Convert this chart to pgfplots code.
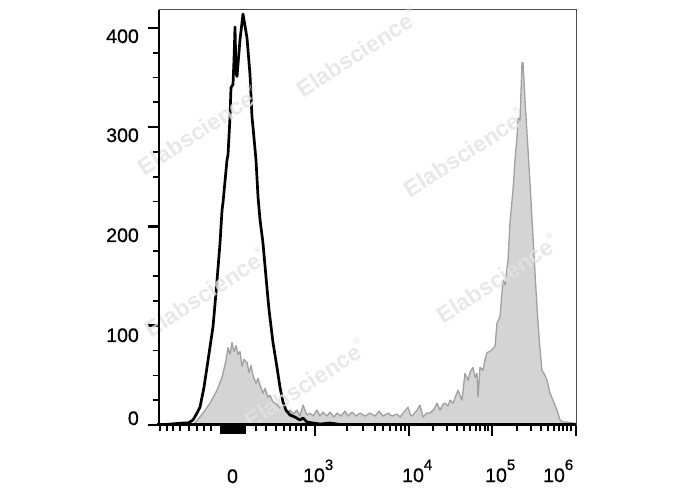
\documentclass[border=0pt]{standalone}
\usepackage{pgfplots}
\pgfplotsset{compat=1.18}
\usepackage{fontspec}
\setmainfont{Liberation Sans}
\newfontfamily\labfont[FakeBold=0.8]{Liberation Sans}
\definecolor{fillgray}{HTML}{D4D4D4}
\definecolor{edgegray}{HTML}{A0A0A0}
\definecolor{wm}{HTML}{E2E2E2}
\newcommand{\lab}{\labfont\fontsize{19.5bp}{22bp}\selectfont}
\newcommand{\wmfont}{\fontsize{23bp}{26bp}\selectfont\bfseries}
\begin{document}
\begin{tikzpicture}
\useasboundingbox (0,0) rectangle (688bp,490bp);
\begin{axis}[
  at={(159bp,65bp)}, anchor=south west,
  scale only axis, width=417bp, height=415bp,
  xmin=159, xmax=576, ymin=0, ymax=418,
  xtick={315,409,492,576}, xticklabels={},
  minor xtick={160,167,173,180,189,197,204,211,256,266,276,284,290,296,301,306,347,363,375,383,390,396,401,405,433,447,457,464,470,476,480,485,488,517,531,541,548,554,559,563,567,571},
  extra x ticks={221,223,225,227,229,231,233,235,237,239,241,243,245},
  extra x tick labels={},
  extra x tick style={major tick length=9bp},
  ytick={0,100,200,300,400}, yticklabels={},
  minor ytick={25,50,75,125,150,175,225,250,275,325,350,375},
  tick align=outside, xtick pos=left, ytick pos=left,
  major tick length=11bp, minor tick length=6.5bp,
  every major tick/.append style={line width=2.6bp, black},
  every minor tick/.append style={line width=1.7bp, black},
  axis line style={line width=1bp, black!70},
]
\addplot[fill=fillgray, draw=edgegray, line width=1.3bp, line join=round] coordinates {
(159,0) (190,0) (195,2) (203,12) (210,22) (217,35) (222,48) (226,65) (228,78) (230,71) (232,83) (234,74) (236,80) (238,71) (240,74) (242,59) (244,66) (247,63) (249,53) (251,60) (253,50) (256,42) (258,47) (260,40) (263,32) (265,37) (268,28) (270,30) (273,23) (277,21) (280,17) (283,19) (287,12) (290,15) (293,11) (297,15) (300,9) (303,20) (307,10) (310,12) (313,9) (317,15) (320,9) (323,13) (327,9) (330,13) (334,8) (337,12) (341,9) (345,14) (348,9) (352,13) (356,9) (360,12) (365,9) (370,12) (375,9) (379,14) (383,9) (388,12) (392,9) (397,11) (400,8) (404,13) (408,18) (411,9) (413,10) (417,15) (420,20) (423,8) (427,12) (430,12) (434,16) (437,22) (440,15) (443,21) (445,22) (448,19) (450,25) (453,22) (456,30) (458,35) (462,25) (465,52) (468,45) (470,53) (473,58) (475,48) (477,52) (478,28) (480,58) (483,55) (485,66) (487,73) (490,74) (492,76) (495,79) (497,103) (500,109) (503,146) (505,141) (508,166) (510,204) (513,237) (515,267) (517,290) (518,309) (520,307) (522,365) (523,365) (525,327) (527,294) (530,244) (533,189) (536,136) (538,103) (540,76) (542,55) (545,50) (547,45) (550,32) (553,25) (557,15) (560,5) (563,3) (567,3) (573,2) (576,0)
} \closedcycle;
\addplot[black, line width=2.7bp, line join=round] coordinates {
(159,0) (183,2) (188,2) (193,5) (197,12) (200,18) (204,38) (208,65) (213,99) (216,133) (220,183) (222,216) (223,224) (227,267) (228,272) (230,310) (231,340) (233,343) (234,368) (235,401) (236,355) (237,351) (240,388) (243,414) (247,390) (250,353) (252,310) (253,300) (256,267) (258,230) (260,207) (263,183) (266,149) (269,116) (273,83) (277,58) (280,38) (283,23) (286,15) (290,10) (295,8) (300,5) (303,7) (307,3) (313,2) (320,1) (330,2) (337,1) (345,0) (576,0)
};
\end{axis}
% watermarks
\begin{scope}[opacity=0.8]
\foreach \x/\y in {357/52, 198/130, 464/152, 205/292, 497/278, 305/383}{
  \node[text=wm, rotate=33, inner sep=0] at (\x bp, 490bp-\y bp) {\wmfont Elabscience\raisebox{1.1ex}{\fontsize{9bp}{9bp}\selectfont\textregistered}};
}
\end{scope}
% axis lines
\draw[line width=1.8bp, black] (159bp,480bp) -- (159bp,65bp);
\draw[line width=3bp, black] (157bp,65bp) -- (576bp,65bp);
% y tick labels
\foreach \v/\b in {400/447, 300/348, 200/248, 100/148, 0/65}{
  \node[anchor=base east, inner sep=0] at (139bp,\b bp) {\lab \v};
}
% x tick labels
\node[anchor=base, inner sep=0] at (232.5bp,7bp) {\lab 0};
\foreach \x/\e in {303/3, 402/4, 485/5, 543/6}{
  \node[anchor=base west, inner sep=0] at (\x bp,8bp) {\lab 10\raisebox{12bp}{\labfont\fontsize{15bp}{15bp}\selectfont\e}};
}
\end{tikzpicture}
\end{document}
